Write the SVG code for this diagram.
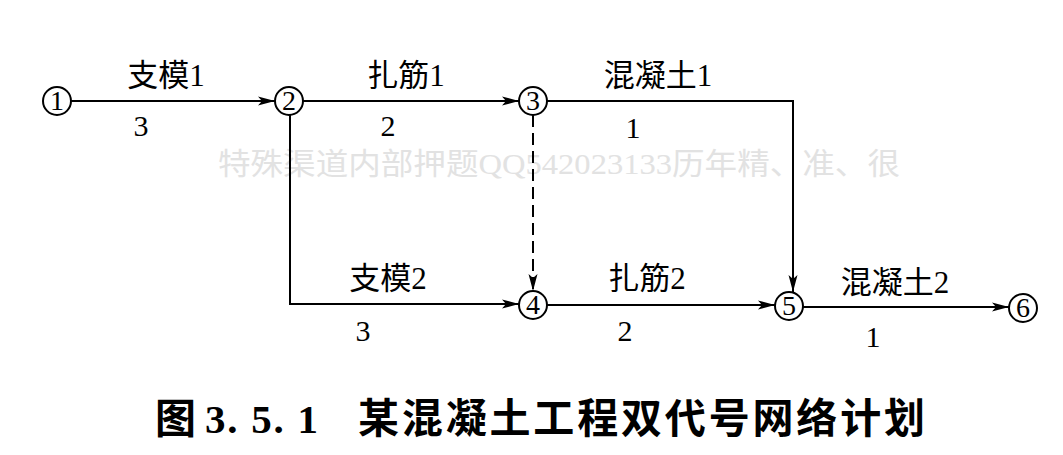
<svg xmlns="http://www.w3.org/2000/svg" width="1063" height="455" viewBox="0 0 1063 455">
<style>
.node circle{fill:#fff;stroke:#000;stroke-width:2}
.node text{font-family:"Liberation Serif","Noto Sans CJK SC",serif;font-size:28px;text-anchor:middle;fill:#000}
.lbl{font-family:"Liberation Serif","Noto Sans CJK SC",serif;font-size:31px;fill:#000;text-anchor:middle}
.num{font-family:"Liberation Serif",serif;font-size:30px;fill:#000;text-anchor:middle}
.edge{fill:none;stroke:#000;stroke-width:2}
.dash{stroke-dasharray:12,6}
.wm{font-family:"Liberation Serif","Noto Sans CJK SC",serif;font-size:30px;fill:#e2e2e2}
.cap{font-family:"Liberation Serif","Noto Sans CJK SC",serif;font-size:41px;font-weight:bold;fill:#000}
</style>
<defs>
<marker id="arr" markerWidth="18" markerHeight="10" refX="17" refY="5" orient="auto" markerUnits="userSpaceOnUse">
<path d="M0,0.5 L17,5 L0,9.5 L4,5 Z" fill="#000"/>
</marker>
</defs>
<text class="wm" x="218" y="174" textLength="682" lengthAdjust="spacingAndGlyphs">特殊渠道内部押题QQ542023133历年精、准、很</text>
<g id="connectors">
<line class="edge" x1="71" y1="101" x2="275" y2="101" marker-end="url(#arr)"/>
<line class="edge" x1="303" y1="101" x2="519" y2="101" marker-end="url(#arr)"/>
<polyline class="edge" points="547,101 793,101 793,292" marker-end="url(#arr)"/>
<polyline class="edge" points="290,115 290,304 519,304" marker-end="url(#arr)"/>
<line class="edge dash" x1="533" y1="115" x2="533" y2="291" marker-end="url(#arr)"/>
<line class="edge" x1="547" y1="305" x2="775" y2="305" marker-end="url(#arr)"/>
<line class="edge" x1="803" y1="307" x2="1009" y2="307" marker-end="url(#arr)"/>
</g>
<g id="labels">
<text class="lbl" x="166" y="86">支模1</text>
<text class="num" x="141" y="136">3</text>
<text class="lbl" x="406" y="86">扎筋1</text>
<text class="num" x="388" y="136">2</text>
<text class="lbl" x="658" y="86">混凝土1</text>
<text class="num" x="633" y="138">1</text>
<text class="lbl" x="388" y="289">支模2</text>
<text class="num" x="363" y="341">3</text>
<text class="lbl" x="647" y="289">扎筋2</text>
<text class="num" x="625" y="341">2</text>
<text class="lbl" x="895" y="293">混凝土2</text>
<text class="num" x="873" y="347">1</text>
</g>
<g id="n1" class="node"><circle cx="57" cy="101" r="14"/><text x="57" y="110">1</text></g>
<g id="n2" class="node"><circle cx="289" cy="101" r="14"/><text x="289" y="110">2</text></g>
<g id="n3" class="node"><circle cx="533" cy="101" r="14"/><text x="533" y="110">3</text></g>
<g id="n4" class="node"><circle cx="533" cy="305" r="14"/><text x="533" y="314">4</text></g>
<g id="n5" class="node"><circle cx="789" cy="306" r="14"/><text x="789" y="315">5</text></g>
<g id="n6" class="node"><circle cx="1023" cy="308" r="14"/><text x="1023" y="317">6</text></g>
<g id="caption">
<text class="cap" x="155" y="433">图</text>
<text class="cap" x="205" y="433" textLength="113" lengthAdjust="spacing">3. 5. 1</text>
<text class="cap" x="358" y="433" textLength="567" lengthAdjust="spacing">某混凝土工程双代号网络计划</text>
</g>
</svg>
